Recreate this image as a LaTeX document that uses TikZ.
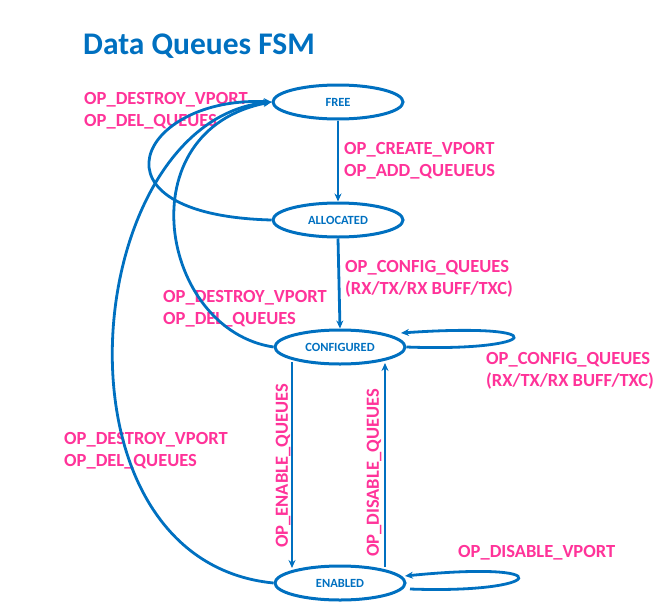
\documentclass[tikz,border=0pt]{standalone}
\usepackage{fontspec}
\setmainfont{Carlito}[BoldFont={Carlito Bold}]
\usetikzlibrary{arrows.meta,shapes.geometric}
\definecolor{fsmblue}{HTML}{0070C0}
\definecolor{fsmpink}{HTML}{FF3399}
\begin{document}
\begin{tikzpicture}[x=1pt,y=-1pt,
  state/.style={draw=fsmblue,line width=3pt,ellipse,minimum width=130pt,minimum height=34pt,inner sep=0pt,text=fsmblue,font=\bfseries\fontsize{12.5}{14}\selectfont},
  lbl/.style={text=fsmpink,font=\bfseries\fontsize{18.5}{22}\selectfont,align=left,anchor=west,inner sep=0pt},
  edge/.style={draw=fsmblue,line width=2.8pt,-{Stealth[length=8pt,width=7pt]}}]
\useasboundingbox (0,0) rectangle (661,613);
\node[anchor=west,inner sep=0pt,text=fsmblue,font=\bfseries\fontsize{31.5}{34}\selectfont] (title) at (83,46) {Data Queues FSM};
\node[state] (free) at (338,102) {FREE};
\node[state] (alloc) at (338,220) {ALLOCATED};
\node[state] (conf) at (340,347) {CONFIGURED};
\node[state] (en) at (340,583) {ENABLED};
\node[lbl] (l1) at (84,111) {OP\_DESTROY\_VPORT\\OP\_DEL\_QUEUES};
\node[lbl] (l2) at (344,161) {OP\_CREATE\_VPORT\\OP\_ADD\_QUEUEUS};
\node[lbl] (l3) at (345,279) {OP\_CONFIG\_QUEUES\\(RX/TX/RX BUFF/TXC)};
\node[lbl] (l4) at (163,309) {OP\_DESTROY\_VPORT\\OP\_DEL\_QUEUES};
\node[lbl] (l5) at (486,371) {OP\_CONFIG\_QUEUES\\(RX/TX/RX BUFF/TXC)};
\node[lbl] (l6) at (64,451) {OP\_DESTROY\_VPORT\\OP\_DEL\_QUEUES};
\node[lbl] (l7) at (458,553) {OP\_DISABLE\_VPORT};
\node[lbl,anchor=center,rotate=90] (l8) at (283,466) {OP\_ENABLE\_QUEUES};
\node[lbl,anchor=center,rotate=90] (l9) at (374,473) {OP\_DISABLE\_QUEUES};
\coordinate (confdnL) at (292,362);
\coordinate (enupL) at (292,568);
\coordinate (enupR) at (385,567);
\coordinate (confdnR) at (385,363);
\coordinate (confloopIn) at (401,333);
\coordinate (enloopOut) at (410,589);
\coordinate (enloopIn) at (405,576);
\draw[edge] (free.south) -- (alloc.north);
\draw[edge] (alloc.south) -- (conf.north);
\draw[edge] (confdnL) -- (enupL);
\draw[edge] (enupR) -- (confdnR);
\draw[edge] (conf.east) .. controls (540,352) and (560,322) .. (confloopIn);
\draw[edge] (enloopOut) .. controls (545,594) and (565,560) .. (enloopIn);
\draw[edge] (alloc.west) .. controls (80,215) and (140,95) .. (free.west);
\draw[edge] (conf.west) .. controls (160,330) and (125,130) .. (free.west);
\draw[edge] (en.west) .. controls (40,560) and (80,120) .. (free.west);
\end{tikzpicture}
\end{document}
